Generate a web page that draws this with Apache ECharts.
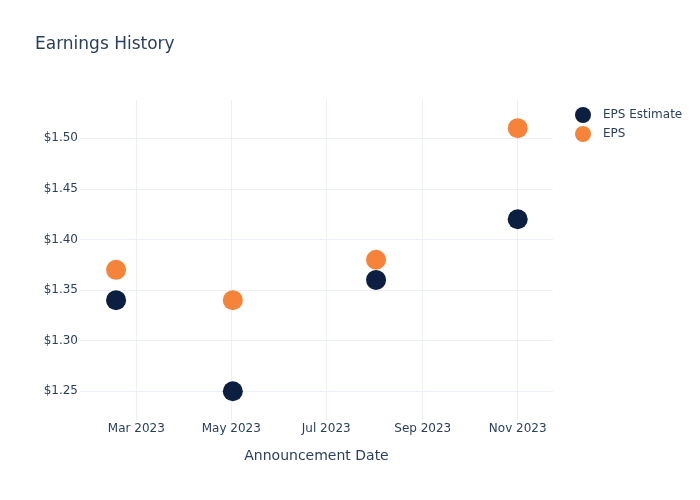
<!DOCTYPE html>
<html>
<head>
<meta charset="utf-8">
<script src="https://cdn.jsdelivr.net/npm/echarts@6/dist/echarts.min.js"></script>
<style>html,body{margin:0;padding:0;background:#fff}#c{width:700px;height:500px}</style>
</head>
<body>
<div id="c"></div>
<script>
const dates = ['2023-02-16', '2023-05-02', '2023-08-02', '2023-11-01'];
const epsEstimate = [1.34, 1.25, 1.36, 1.42];
const eps = [1.37, 1.34, 1.38, 1.51];
const seriesNames = ['EPS Estimate', 'EPS'];
const monthNames = ['Jan','Feb','Mar','Apr','May','Jun','Jul','Aug','Sep','Oct','Nov','Dec'];

const txt = '#2a3f5f';
const grid = '#ebf0f8';
const font = 'DejaVu Sans, sans-serif';
const chart = echarts.init(document.getElementById('c'), null, {renderer: 'canvas'});
chart.setOption({
  backgroundColor: '#fff',
  animation: false,
  title: {
    text: 'Earnings History', left: 30, top: 31,
    textStyle: {color: txt, fontSize: 17, fontWeight: 'normal', fontFamily: font}
  },
  legend: {
    orient: 'vertical', left: 570, top: 102, itemWidth: 16, itemHeight: 16, itemGap: 3,
    icon: 'circle',
    textStyle: {color: txt, fontSize: 12, fontFamily: font, padding: [0, 0, 0, 7]},
    data: seriesNames
  },
  grid: {left: 80, right: 147, top: 100, bottom: 80, containLabel: false},
  xAxis: {
    type: 'time',
    min: '2023-01-23T20:00:00', max: '2023-11-23T16:00:00',
    minInterval: 61 * 86400000, maxInterval: 63 * 86400000,
    name: 'Announcement Date', nameLocation: 'middle', nameGap: 29,
    nameTextStyle: {color: txt, fontSize: 14, fontFamily: font},
    axisLine: {show: false}, axisTick: {show: false},
    axisLabel: {
      color: txt, fontSize: 12, margin: 3, fontFamily: font,
      showMinLabel: false, showMaxLabel: false,
      formatter: function (v) { const d = new Date(v); return monthNames[d.getMonth()] + ' ' + d.getFullYear(); }
    },
    splitLine: {show: true, showMinLine: false, showMaxLine: false, lineStyle: {color: grid, width: 1}}
  },
  yAxis: {
    type: 'value', min: 1.2216, max: 1.5378, splitNumber: 6,
    axisLine: {show: false}, axisTick: {show: false},
    axisLabel: {
      color: txt, fontSize: 12, margin: 2, fontFamily: font,
      showMinLabel: false, showMaxLabel: false,
      formatter: function (v) { return '$' + v.toFixed(2); }
    },
    splitLine: {show: true, showMinLine: false, showMaxLine: false, lineStyle: {color: grid, width: 1}}
  },
  series: [
    {name: seriesNames[0], type: 'scatter', symbolSize: 20, itemStyle: {color: '#0c1f40', opacity: 1},
     data: dates.map((d, i) => [d, epsEstimate[i]])},
    {name: seriesNames[1], type: 'scatter', symbolSize: 20, itemStyle: {color: '#f5833a', opacity: 1},
     data: dates.map((d, i) => [d, eps[i]])}
  ]
});
</script>
</body>
</html>
